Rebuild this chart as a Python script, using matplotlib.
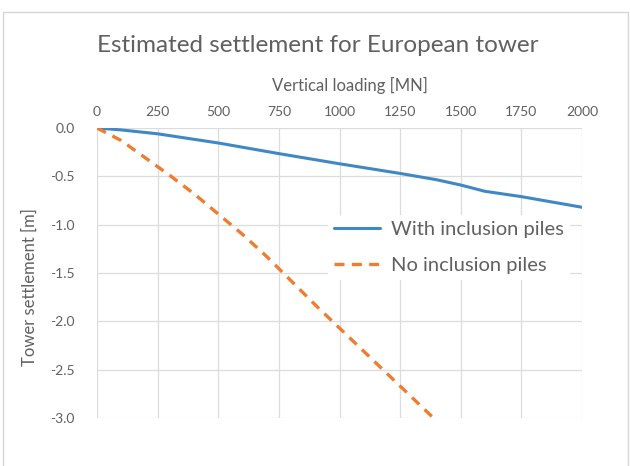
import matplotlib.pyplot as plt
from matplotlib.patches import Rectangle

# Settlement curves, vertical loading in MN, settlement in m
load_piles = [0, 100, 250, 500, 750, 1000, 1250, 1400, 1500, 1600, 1750, 2000]
settle_piles = [0.0, -0.02, -0.06, -0.155, -0.265, -0.37, -0.47, -0.535,
                -0.59, -0.655, -0.71, -0.82]

load_nopiles = [0, 100, 200, 300, 400, 500, 600, 700, 800, 900, 1000,
                1100, 1200, 1300, 1400]
settle_nopiles = [0.0, -0.13, -0.31, -0.49, -0.68, -0.89, -1.10, -1.33,
                  -1.58, -1.83, -2.07, -2.31, -2.55, -2.79, -3.03]

x_ticks = [0, 250, 500, 750, 1000, 1250, 1500, 1750, 2000]
y_ticks = [0.0, -0.5, -1.0, -1.5, -2.0, -2.5, -3.0]

BLUE = "#3F88C5"
ORANGE = "#ED7D31"
GRID = "#DCDCDC"
TEXT = "#606060"
FONT = ["Lato", "DejaVu Sans"]

W, H = 630, 466
fig = plt.figure(figsize=(W / 100, H / 100), dpi=100, facecolor="white")

# outer chart border
fig.patches.append(Rectangle((3 / W, -0.02), 625 / W, 1 - 12 / H + 0.02,
                             transform=fig.transFigure, fill=False,
                             edgecolor="#D6D6D6", linewidth=1.0))

ax = fig.add_axes([97 / W, 1 - 418 / H, 485 / W, 290 / H])
ax.plot(load_piles, settle_piles, color=BLUE, lw=2.2,
        label="With inclusion piles", solid_capstyle="round")
ax.plot(load_nopiles, settle_nopiles, color=ORANGE, lw=2.4, ls=(0, (3, 2.2)),
        label="No inclusion piles")

ax.set_xlim(0, 2000)
ax.set_ylim(-3.0, 0.0)
ax.set_xticks(x_ticks)
ax.set_yticks(y_ticks)
ax.set_yticklabels([f"{v:.1f}" for v in y_ticks])
ax.xaxis.tick_top()
ax.tick_params(length=0, colors=TEXT, labelsize=10)
ax.tick_params(axis="x", pad=7)
ax.tick_params(axis="y", pad=16)
for lab in ax.get_xticklabels() + ax.get_yticklabels():
    lab.set_family(FONT)
ax.grid(True, color=GRID, lw=0.9)
for s in ax.spines.values():
    s.set_visible(False)
ax.set_axisbelow(True)

leg = ax.legend(loc="upper left", bbox_to_anchor=(0.455, 0.735), frameon=True,
                handlelength=2.3, handletextpad=0.55,
                labelspacing=0.95, borderpad=0.3,
                prop={"family": FONT, "size": 14.5})
leg.get_frame().set_edgecolor("none")
leg.get_frame().set_facecolor("white")
leg.get_frame().set_alpha(1)
for t in leg.get_texts():
    t.set_color(TEXT)

fig.text(318 / W, 1 - 45 / H, "Estimated settlement for European tower",
         ha="center", va="center", fontsize=17.5, color=TEXT, family=FONT)
fig.text(350 / W, 1 - 85 / H, "Vertical loading [MN]",
         ha="center", va="center", fontsize=12, color=TEXT, family=FONT)
fig.text(30 / W, 1 - 287 / H, "Tower settlement [m]", rotation=90,
         ha="center", va="center", fontsize=12, color=TEXT, family=FONT)

fig.savefig("out.png", dpi=100, facecolor="white")
